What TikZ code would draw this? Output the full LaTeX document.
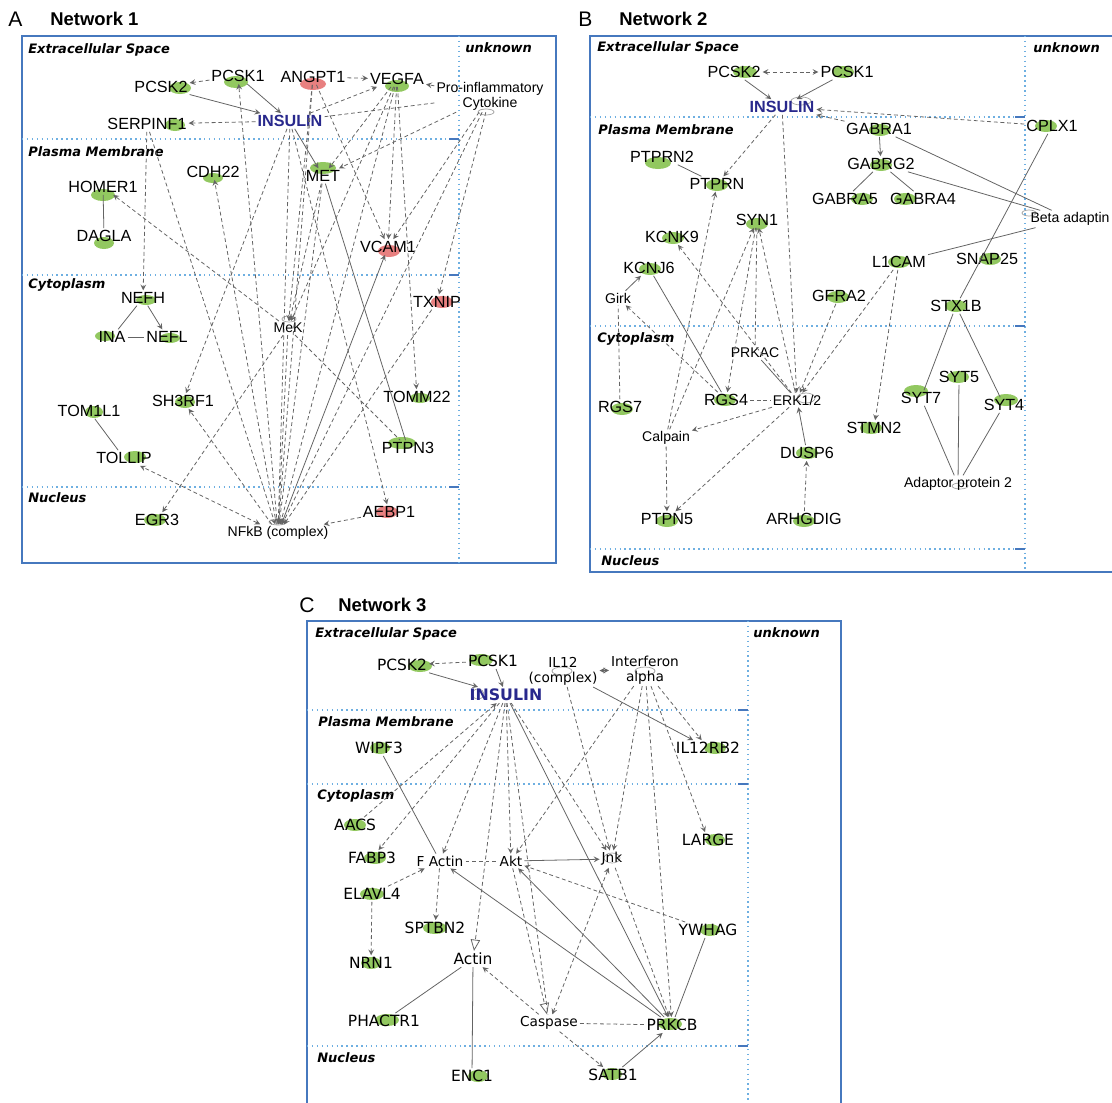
\documentclass[tikz,border=0pt]{standalone}
\usepackage{fontspec}
\setmainfont{Liberation Sans}
\newfontfamily\cfont{DejaVu Sans}
\newfontfamily\compfont{DejaVu Sans}
\usepackage{tikz}
\usetikzlibrary{arrows,calc}
\definecolor{UpGreen}{RGB}{146,200,96}
\definecolor{UpRed}{RGB}{232,128,128}
\definecolor{FrameBlue}{RGB}{70,120,190}
\definecolor{DivBlue}{RGB}{110,175,225}
\definecolor{InsBlue}{RGB}{40,40,140}
\definecolor{EdgeGray}{RGB}{100,100,100}
\tikzset{
	frame/.style={draw=FrameBlue,line width=1.4pt},
	divline/.style={draw=DivBlue,line width=0.8pt,dotted},
	divtick/.style={draw=FrameBlue,line width=0.9pt},
	comp/.style={anchor=west,inner sep=0pt,font=\compfont\fontsize{7.4}{8.5}\selectfont\bfseries\itshape},
	ptitle/.style={anchor=west,inner sep=0pt,font=\fontsize{10.5}{12}\selectfont\bfseries},
	pletter/.style={anchor=west,inner sep=0pt,font=\fontsize{12}{14}\selectfont},
	gene/.style={inner sep=1pt,font=\fontsize{9.2}{10}\selectfont},
	grp/.style={inner sep=1pt,align=center,font=\fontsize{8}{8.6}\selectfont},
	ins/.style={inner sep=1pt,text=InsBlue,font=\fontsize{9.2}{10}\selectfont\bfseries},
	cgene/.style={gene,font=\cfont\fontsize{8.8}{10}\selectfont},
	cgrp/.style={grp,font=\cfont\fontsize{7.8}{8.4}\selectfont},
	cins/.style={ins,font=\cfont\fontsize{9}{10}\selectfont\bfseries},
	gblob/.style={fill=UpGreen},
	rblob/.style={fill=UpRed},
	wblob/.style={draw=EdgeGray!60,line width=0.4pt},
	rel/.style={draw=EdgeGray,line width=0.45pt,->,>=stealth},
	drel/.style={rel,dash pattern=on 2.2pt off 1.6pt},
	drelb/.style={drel,<->},
	drelo/.style={drel,-open triangle 45},
	bond/.style={draw=EdgeGray,line width=0.45pt},
	dbond/.style={bond,dash pattern=on 2.2pt off 1.6pt}
}
\begin{document}
\begin{tikzpicture}[x=0.02cm,y=-0.02cm]
	\useasboundingbox (0,0) rectangle (1112,1102);
	\fill[white] (0,0) rectangle (1112,1102);
	% Network 1
	\node[pletter] at (8,19) {A};
	\node[ptitle] at (50,19) {Network 1};
	\draw[frame] (22,36) rectangle (556,563);
	\draw[divline] (459,36) -- (459,563);
	\foreach \y in {139,275,487} {
		\draw[divline] (22,\y) -- (449,\y);
		\draw[divtick] (449,\y) -- (459,\y);
	}
	\node[comp] at (28,50) {Extracellular Space};
	\node[comp] at (465,48) {unknown};
	\node[comp] at (28,152) {Plasma Membrane};
	\node[comp] at (28,285) {Cytoplasm};
	\node[comp] at (28,498) {Nucleus};
	\fill[gblob] (180,88) ellipse (11 and 6);
	\fill[gblob] (236,82) ellipse (12 and 6);
	\fill[rblob] (313,84) ellipse (13 and 6);
	\fill[gblob] (397,86) ellipse (12 and 6);
	\draw[wblob] (486,112) ellipse (8 and 3);
	\fill[gblob] (175,125) ellipse (10 and 6);
	\fill[gblob] (213,178) ellipse (10 and 5);
	\fill[gblob] (323,168) ellipse (13 and 6);
	\fill[gblob] (103,195) ellipse (12 and 6);
	\fill[gblob] (104,243) ellipse (10 and 6);
	\fill[rblob] (389,251) ellipse (11 and 6);
	\fill[gblob] (146,300) ellipse (10 and 5);
	\fill[gblob] (105,336) ellipse (10 and 5);
	\fill[gblob] (170,338) ellipse (10 and 5);
	\draw[wblob] (289,319) ellipse (7 and 3);
	\fill[rblob] (442,302) ellipse (11 and 6);
	\fill[gblob] (185,402) ellipse (10 and 6);
	\fill[gblob] (420,398) ellipse (10 and 5);
	\fill[gblob] (94,412) ellipse (9 and 6);
	\fill[gblob] (402,443) ellipse (14 and 6);
	\fill[gblob] (135,457) ellipse (11 and 6);
	\fill[gblob] (155,520) ellipse (11 and 6);
	\draw[wblob] (278,522) ellipse (9 and 3);
	\fill[rblob] (387,512) ellipse (11 and 6);
	\node[gene] (pcsktwo) at (161,87) {PCSK2};
	\node[gene] (pcskone) at (238,76) {PCSK1};
	\node[gene] (angpt) at (313,77) {ANGPT1};
	\node[gene] (vegfa) at (397,79) {VEGFA};
	\node[grp] (cyto) at (490,96) {Pro-inflammatory\\Cytokine};
	\node[ins] (insulin) at (290,121) {INSULIN};
	\node[gene] (serpin) at (147,124) {SERPINF1};
	\node[gene] (cdh) at (213,172) {CDH22};
	\node[gene] (met) at (323,176) {MET};
	\node[gene] (homer) at (103,187) {HOMER1};
	\node[gene] (dagla) at (104,236) {DAGLA};
	\node[gene] (vcam) at (388,247) {VCAM1};
	\node[gene] (nefh) at (143,298) {NEFH};
	\node[gene] (ina) at (112,337) {INA};
	\node[gene] (nefl) at (167,337) {NEFL};
	\node[grp] (mek) at (288,328) {MeK};
	\node[gene] (txnip) at (437,302) {TXNIP};
	\node[gene] (shrf) at (183,401) {SH3RF1};
	\node[gene] (tomm) at (417,397) {TOMM22};
	\node[gene] (toml) at (89,411) {TOM1L1};
	\node[gene] (ptpnthree) at (408,448) {PTPN3};
	\node[gene] (tollip) at (124,458) {TOLLIP};
	\node[gene] (egr) at (157,520) {EGR3};
	\node[grp] (nfkb) at (278,533) {NFkB (complex)};
	\node[gene] (aebp) at (389,512) {AEBP1};
	\foreach \a/\b in {pcsktwo/insulin,pcskone/insulin,insulin/met,nefh/nefl,nfkb/vcam}
		\draw[rel] (\a) -- (\b);
	\foreach \a/\b in {pcskone/pcsktwo,angpt/vegfa,cyto/vegfa,insulin/vegfa,insulin/serpin,vegfa/met,cyto/met,
		angpt/vcam,vegfa/vcam,cyto/vcam,vegfa/tomm,vegfa/mek,angpt/mek,met/mek,serpin/nefh,serpin/nfkb,
		nfkb/pcskone,mek/homer,nfkb/cdh,nfkb/shrf,mek/egr,aebp/nfkb,insulin/aebp,cyto/txnip,txnip/nfkb,
		vegfa/nfkb,met/nfkb,mek/nfkb,insulin/nfkb,angpt/nfkb,cyto/nfkb,insulin/shrf}
		\draw[drel] (\a) -- (\b);
	\draw[drelb] (nfkb) -- (tollip);
	\foreach \a/\b in {homer/dagla,toml/tollip,nefh/ina,ina/nefl,met/ptpnthree}
		\draw[bond] (\a) -- (\b);
	\foreach \a/\b in {cyto/insulin,mek/ptpnthree}
		\draw[dbond] (\a) -- (\b);
	% Network 2
	\node[pletter] at (578,19) {B};
	\node[ptitle] at (619,19) {Network 2};
	\draw[frame] (590,36) rectangle (1116,572);
	\draw[divline] (1025,36) -- (1025,572);
	\foreach \y in {117,326,549} {
		\draw[divline] (590,\y) -- (1015,\y);
		\draw[divtick] (1015,\y) -- (1025,\y);
	}
	\node[comp] at (597,48) {Extracellular Space};
	\node[comp] at (1033,48) {unknown};
	\node[comp] at (598,130) {Plasma Membrane};
	\node[comp] at (597,339) {Cytoplasm};
	\node[comp] at (601,561) {Nucleus};
	\fill[gblob] (745,72) ellipse (12 and 6);
	\fill[gblob] (843,72) ellipse (11 and 6);
	\draw[wblob] (801,101) ellipse (10 and 4);
	\fill[gblob] (880,130) ellipse (11 and 6);
	\fill[gblob] (1046,126) ellipse (11 and 6);
	\fill[gblob] (658,163) ellipse (13 and 6);
	\fill[gblob] (881,165) ellipse (11 and 6);
	\fill[gblob] (717,185) ellipse (11 and 6);
	\fill[gblob] (862,199) ellipse (11 and 6);
	\fill[gblob] (905,199) ellipse (11 and 6);
	\draw[wblob] (1029,213) ellipse (7 and 3);
	\fill[gblob] (757,224) ellipse (11 and 6);
	\fill[gblob] (673,238) ellipse (11 and 6);
	\fill[gblob] (899,262) ellipse (11 and 6);
	\fill[gblob] (990,259) ellipse (11 and 6);
	\fill[gblob] (650,269) ellipse (11 and 6);
	\fill[gblob] (838,297) ellipse (11 and 6);
	\fill[gblob] (956,306) ellipse (11 and 6);
	\fill[gblob] (958,377) ellipse (11 and 6);
	\fill[gblob] (916,391) ellipse (12 and 6);
	\fill[gblob] (1006,400) ellipse (12 and 6);
	\fill[gblob] (622,409) ellipse (11 and 6);
	\fill[gblob] (725,400) ellipse (11 and 6);
	\draw[wblob] (806,398) ellipse (9 and 5);
	\fill[gblob] (871,428) ellipse (11 and 6);
	\fill[gblob] (807,453) ellipse (11 and 6);
	\draw[wblob] (960,486) ellipse (8 and 3);
	\fill[gblob] (667,521) ellipse (11 and 6);
	\fill[gblob] (804,521) ellipse (11 and 6);
	\node[gene] (bpcsktwo) at (734,72) {PCSK2};
	\node[gene] (bpcskone) at (847,72) {PCSK1};
	\node[ins] (binsulin) at (782,107) {INSULIN};
	\node[gene] (bgabraone) at (879,129) {GABRA1};
	\node[gene] (bcplx) at (1052,126) {CPLX1};
	\node[gene] (bptprntwo) at (662,157) {PTPRN2};
	\node[gene] (bgabrgtwo) at (881,164) {GABRG2};
	\node[gene] (bptprn) at (717,184) {PTPRN};
	\node[gene] (bgabrafive) at (845,199) {GABRA5};
	\node[gene] (bgabrafour) at (923,199) {GABRA4};
	\node[grp] (bbeta) at (1070,219) {Beta adaptin};
	\node[gene] (bsyn) at (757,220) {SYN1};
	\node[gene] (bkcnk) at (672,237) {KCNK9};
	\node[gene] (blcam) at (899,262) {L1CAM};
	\node[gene] (bsnap) at (987,259) {SNAP25};
	\node[gene] (bkcnj) at (649,268) {KCNJ6};
	\node[grp] (bgirk) at (618,298) {Girk};
	\node[gene] (bgfra) at (839,296) {GFRA2};
	\node[gene] (bstx) at (956,306) {STX1B};
	\node[grp] (bprkac) at (755,353) {PRKAC};
	\node[gene] (bsytfive) at (959,377) {SYT5};
	\node[gene] (bsytseven) at (921,398) {SYT7};
	\node[gene] (bsytfour) at (1004,405) {SYT4};
	\node[gene] (brgsseven) at (620,407) {RGS7};
	\node[gene] (brgsfour) at (726,400) {RGS4};
	\node[grp] (berk) at (797,400) {ERK1/2};
	\node[grp] (bcalpain) at (666,438) {Calpain};
	\node[gene] (bstmn) at (874,428) {STMN2};
	\node[gene] (bdusp) at (807,453) {DUSP6};
	\node[grp] (badaptor) at (958,484) {Adaptor protein 2};
	\node[gene] (bptpnfive) at (667,519) {PTPN5};
	\node[gene] (barhg) at (804,519) {ARHGDIG};
	\foreach \a/\b in {bpcsktwo/binsulin,bpcskone/binsulin,bgabraone/bgabrgtwo,bgirk/bkcnj,bdusp/berk}
		\draw[rel] (\a) -- (\b);
	\foreach \a/\b in {bgabraone/binsulin,bcplx/binsulin,binsulin/bptprn,binsulin/berk,bsyn/brgsfour,berk/bsyn,
		bcalpain/bsyn,bcalpain/bptprn,berk/bkcnk,brgsfour/bgirk,berk/bcalpain,berk/bptpnfive,bcalpain/bptpnfive,
		barhg/bdusp,bgfra/berk,blcam/berk,blcam/bstmn}
		\draw[drel] (\a) -- (\b);
	\draw[drelb] (bpcsktwo) -- (bpcskone);
	\foreach \a/\b in {bptprntwo/bptprn,bgabrgtwo/bgabrafive,bgabrgtwo/bgabrafour,bgabraone/bbeta,bgabrgtwo/bbeta,
		blcam/bbeta,bcplx/bstx,bstx/bsytseven,bstx/bsytfour,bsytseven/badaptor,bsytfive/badaptor,bsytfour/badaptor,
		bkcnj/brgsfour,bprkac/berk}
		\draw[bond] (\a) -- (\b);
	\foreach \a/\b in {bsyn/bprkac,brgsseven/bgirk,brgsfour/berk}
		\draw[dbond] (\a) -- (\b);
	% Network 3
	\node[pletter] at (299,605) {C};
	\node[ptitle] at (338,605) {Network 3};
	\draw[frame] (307,621) rectangle (841,1106);
	\draw[divline] (748,621) -- (748,1106);
	\foreach \y in {710,784,1046} {
		\draw[divline] (307,\y) -- (738,\y);
		\draw[divtick] (738,\y) -- (748,\y);
	}
	\node[comp] at (315,634) {Extracellular Space};
	\node[comp] at (753,633) {unknown};
	\node[comp] at (318,722) {Plasma Membrane};
	\node[comp] at (317,796) {Cytoplasm};
	\node[comp] at (317,1058) {Nucleus};
	\fill[gblob] (420,666) ellipse (12 and 6);
	\fill[gblob] (481,660) ellipse (12 and 6);
	\draw[wblob] (562,671) ellipse (10 and 4);
	\draw[wblob] (645,671) ellipse (10 and 4);
	\draw[wblob] (478,694) ellipse (6 and 5);
	\fill[gblob] (380,748) ellipse (10 and 6);
	\fill[gblob] (715,748) ellipse (11 and 6);
	\fill[gblob] (355,825) ellipse (11 and 6);
	\fill[gblob] (715,840) ellipse (10 and 6);
	\fill[gblob] (375,858) ellipse (11 and 6);
	\draw[wblob] (612,858) ellipse (8 and 5);
	\fill[gblob] (372,894) ellipse (12 and 6);
	\fill[gblob] (435,928) ellipse (12 and 6);
	\fill[gblob] (710,930) ellipse (10 and 6);
	\fill[gblob] (371,963) ellipse (10 and 6);
	\fill[gblob] (387,1020) ellipse (12 and 6);
	\fill[gblob] (670,1024) ellipse (12 and 6);
	\fill[gblob] (478,1076) ellipse (10 and 6);
	\fill[gblob] (612,1074) ellipse (10 and 6);
	\node[cgene] (cpcsktwo) at (402,665) {PCSK2};
	\node[cgene] (cpcskone) at (493,661) {PCSK1};
	\node[cgrp] (cil) at (563,671) {IL12\\(complex)};
	\node[cgrp] (cifn) at (645,670) {Interferon\\alpha};
	\node[cins] (cinsulin) at (506,695) {INSULIN};
	\node[cgene] (cwipf) at (379,748) {WIPF3};
	\node[cgene] (cilrb) at (708,748) {IL12RB2};
	\node[cgene] (caacs) at (355,825) {AACS};
	\node[cgene] (clarge) at (708,840) {LARGE};
	\node[cgene] (cfabp) at (372,858) {FABP3};
	\node[cgrp] (cfactin) at (440,861) {F Actin};
	\node[cgrp] (cakt) at (511,861) {Akt};
	\node[cgrp] (cjnk) at (612,859) {Jnk};
	\node[cgene] (celavl) at (372,894) {ELAVL4};
	\node[cgene] (csptbn) at (435,928) {SPTBN2};
	\node[cgene] (cywhag) at (708,930) {YWHAG};
	\node[cgene] (cnrn) at (371,963) {NRN1};
	\node[cgene] (cactin) at (473,959) {Actin};
	\node[cgene] (cphactr) at (384,1021) {PHACTR1};
	\node[cgrp] (ccaspase) at (549,1023) {Caspase};
	\node[cgene] (cprkcb) at (672,1025) {PRKCB};
	\node[cgene] (cenc) at (472,1076) {ENC1};
	\node[cgene] (csatb) at (613,1075) {SATB1};
	\foreach \a/\b in {cpcsktwo/cinsulin,cpcskone/cinsulin,cil/cilrb,cinsulin/cprkcb,cakt/cjnk,cprkcb/cfactin,
		cprkcb/cakt,csatb/cprkcb}
		\draw[rel] (\a) -- (\b);
	\foreach \a/\b in {cpcskone/cpcsktwo,cifn/cilrb,cifn/clarge,cifn/cakt,cifn/cjnk,cifn/cprkcb,cil/cjnk,
		caacs/cinsulin,cinsulin/cfabp,cinsulin/cfactin,cinsulin/cakt,cinsulin/cjnk,celavl/cfactin,celavl/cnrn,
		cfactin/csptbn,cywhag/cakt,cjnk/cprkcb,ccaspase/cactin,ccaspase/csatb}
		\draw[drel] (\a) -- (\b);
	\foreach \a/\b in {cinsulin/cactin,cakt/ccaspase}
		\draw[drelo] (\a) -- (\b);
	\foreach \a/\b in {cil/cifn,cjnk/ccaspase}
		\draw[drelb] (\a) -- (\b);
	\foreach \a/\b in {cwipf/cfactin,cywhag/cprkcb,cactin/cphactr,cactin/cenc}
		\draw[bond] (\a) -- (\b);
	\foreach \a/\b in {cfactin/cakt,ccaspase/cprkcb,cinsulin/ccaspase}
		\draw[dbond] (\a) -- (\b);
\end{tikzpicture}
\end{document}
